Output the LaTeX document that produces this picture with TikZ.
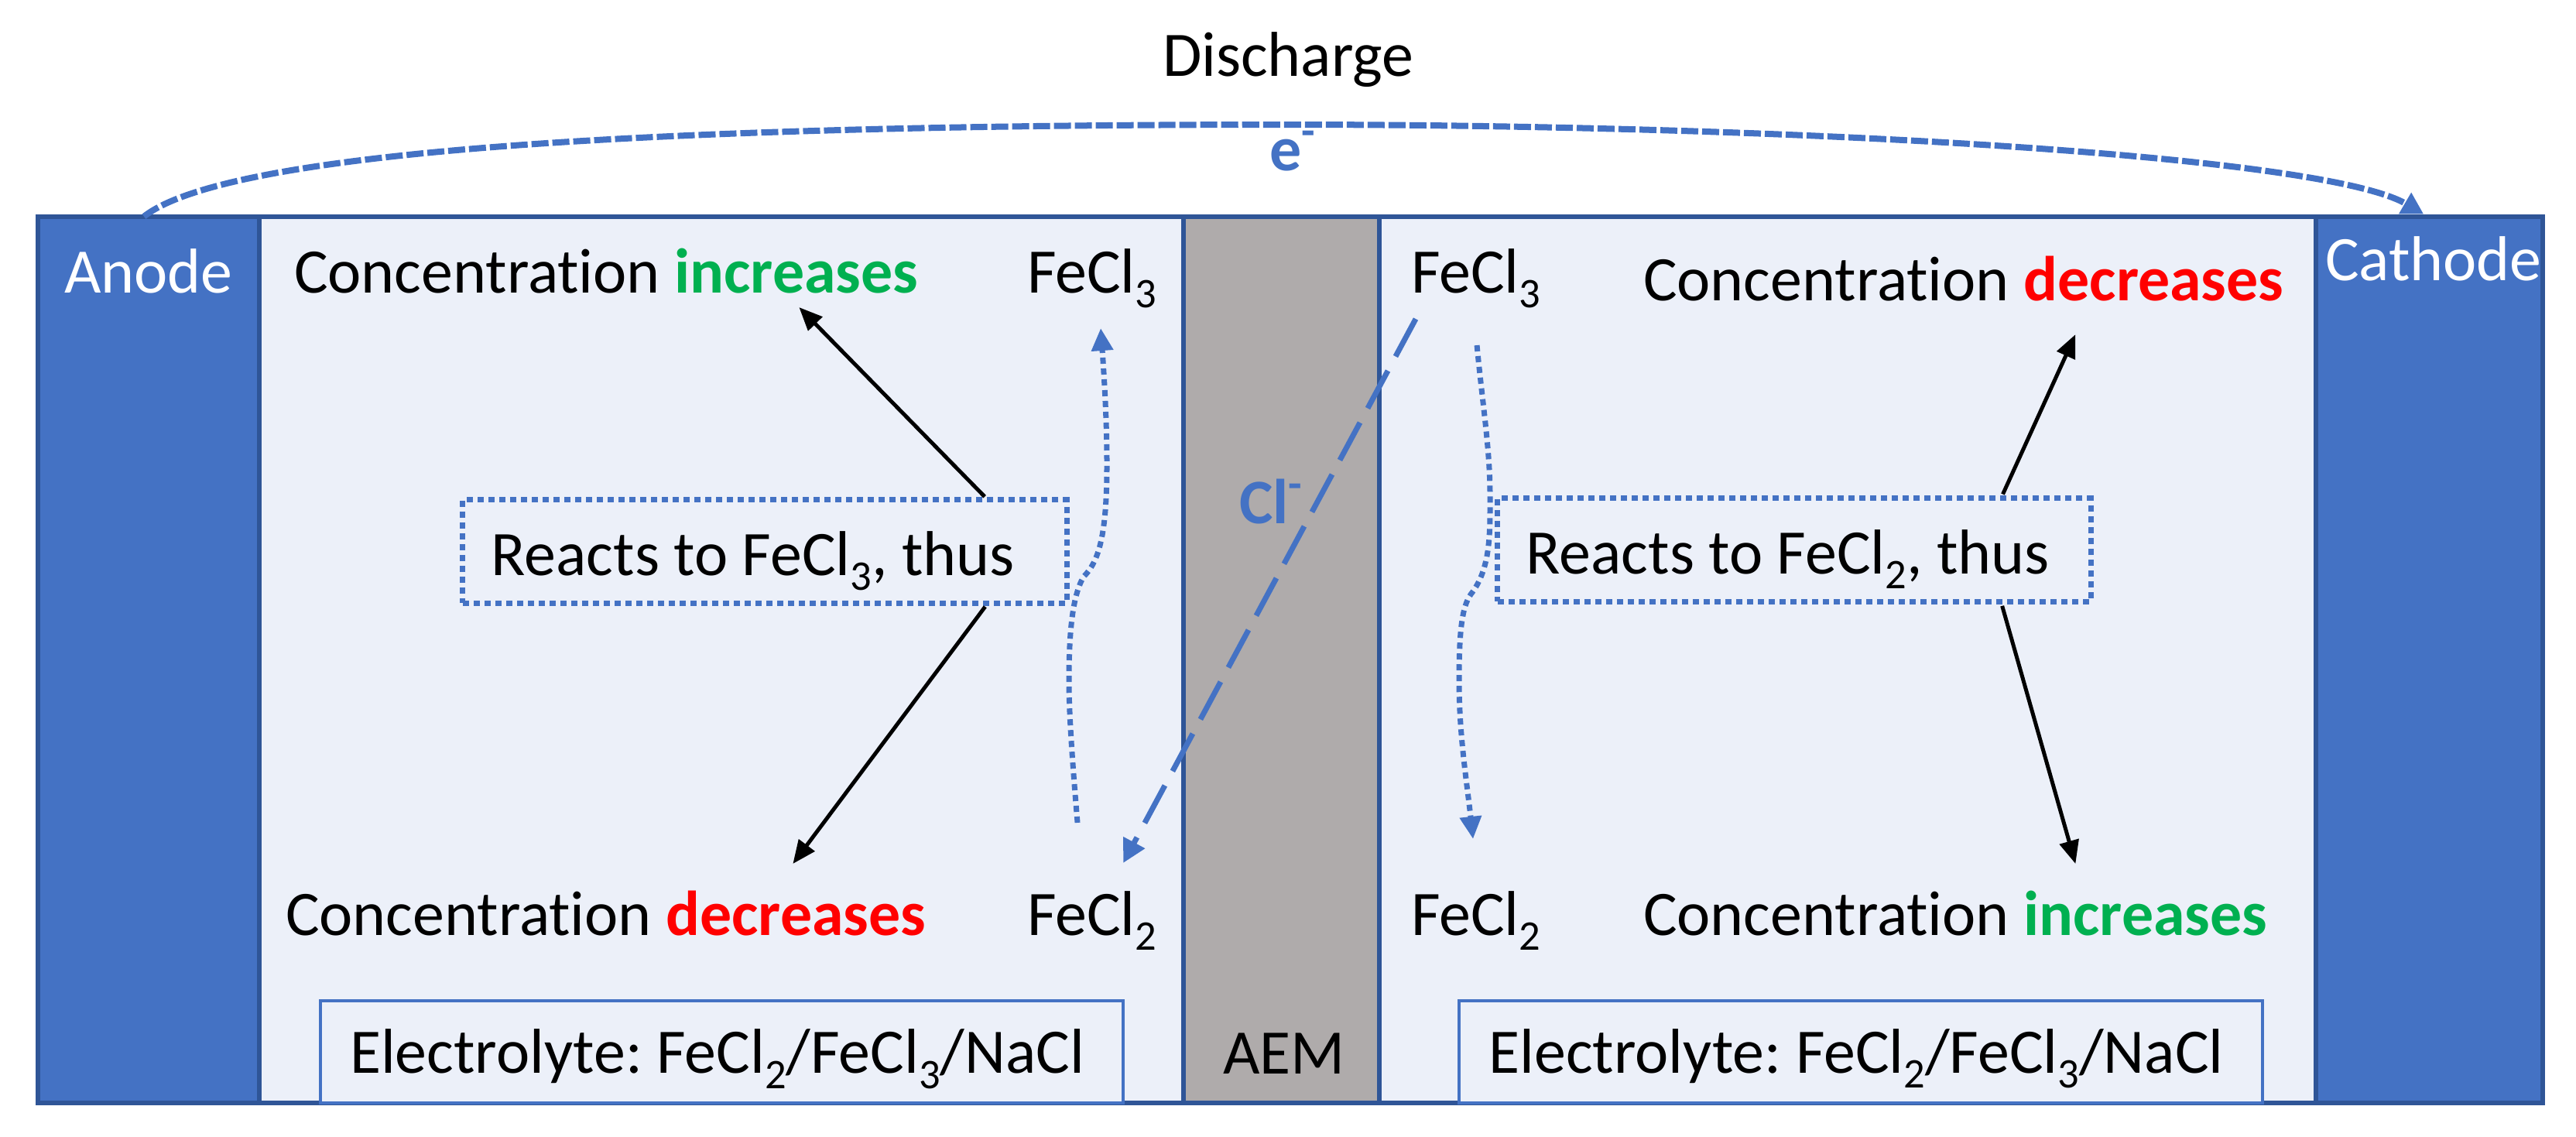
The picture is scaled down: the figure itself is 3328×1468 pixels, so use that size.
\documentclass[tikz,border=0pt]{standalone}
\usepackage{fontspec}
\setmainfont{Carlito}[Ligatures=CommonOff]
\usetikzlibrary{arrows.meta,positioning}
\definecolor{electrode}{HTML}{4472C4}
\definecolor{edgeblue}{HTML}{2F5597}
\definecolor{cellfill}{HTML}{ECF0F9}
\definecolor{aemgray}{HTML}{AFABAB}
\definecolor{upgreen}{HTML}{00B050}
\newcommand{\chemsub}[1]{\raisebox{-.24em}{\fontsize{15.5}{16}\selectfont #1}}
\newcommand{\up}{\textcolor{upgreen}{\textbf{increases}}}
\newcommand{\down}{\textcolor{red}{\textbf{decreases}}}
\frenchspacing

\begin{document}
\begin{tikzpicture}[
      x=0.01cm,y=-0.01cm,
      font=\fontsize{23.3}{27}\selectfont,
      cell/.style={
         rectangle,
         draw=edgeblue,
         line width=0.06cm,
         outer sep=0pt,
         minimum height=11.45cm},
      mytext/.style={
         anchor=base west,
         inner sep=0pt,
         outer sep=0pt,
         text height=0.5cm,
         text depth=0pt},
      reactbox/.style={
         rectangle,
         draw=electrode,
         line width=0.07cm,
         dash pattern=on 0.08cm off 0.06cm,
         inner sep=0pt,
         outer sep=0pt,
         minimum height=1.33cm,
         align=flush left,
         text height=0.61cm,
         text depth=0pt},
      elecbox/.style={
         rectangle,
         draw=electrode,
         fill=cellfill,
         line width=0.04cm,
         inner sep=0pt,
         outer sep=0pt,
         minimum width=10.37cm,
         minimum height=1.32cm,
         text width=9.6cm,
         align=flush left,
         text height=0.55cm,
         text depth=0pt},
      myarrow/.style={-{Triangle[length=0.3cm,width=0.25cm]},line width=0.05cm,shorten <=0.06cm},
      wirearrow/.style={-{Triangle[length=0.28cm,width=0.3cm]},draw=electrode,line width=0.08cm,dash pattern=on 0.22cm off 0.05cm},
      ionarrow/.style={-{Triangle[length=0.3cm,width=0.3cm]},draw=electrode,line width=0.07cm,dash pattern=on 0.55cm off 0.21cm},
      dotarrow/.style={-{Triangle[length=0.29cm,width=0.27cm]},draw=electrode,line width=0.07cm,dash pattern=on 0.08cm off 0.06cm}
      ]
      \useasboundingbox (0,0) rectangle (3328,1468);

      \node[cell,fill=electrode,minimum width=2.86cm] (anode) at (192,852.5) {};
      \node[cell,fill=cellfill,minimum width=11.93cm,right=0cm of anode] (leftcell) {};
      \node[cell,fill=aemgray,minimum width=2.53cm,right=0cm of leftcell] (aem) {};
      \node[cell,fill=cellfill,minimum width=12.09cm,right=0cm of aem] (rightcell) {};
      \node[cell,fill=electrode,minimum width=2.93cm,right=0cm of rightcell] (cathode) {};

      \node[elecbox] (elecl) at (932.5,1359) {Electrolyte: FeCl\chemsub{2}/FeCl\chemsub{3}/NaCl};
      \node[elecbox] (elecr) at (2404,1358.5) {Electrolyte: FeCl\chemsub{2}/FeCl\chemsub{3}/NaCl};
      \node[reactbox,minimum width=7.8cm,text width=7.06cm] (reactl) at (988,712.5) {Reacts to FeCl\chemsub{3}, thus};
      \node[reactbox,minimum width=7.66cm,text width=6.92cm] (reactr) at (2318,710.5) {Reacts to FeCl\chemsub{2}, thus};

    \foreach \n/\x/\y/\txt in {% name/left end/baseline/text
      discharge/1502/98/{Discharge},
      anodetxt/83/378/{\textcolor{white}{Anode}},
      cathodetxt/3004/362/{\textcolor{white}{Cathode}},
      aemtxt/1580/1387/{AEM},
      incl/380/378/{Concentration \up},
      decl/369/1208/{Concentration \down},
      decr/2123/388/{Concentration \down},
      incr/2123/1208/{Concentration \up},
      fethreel/1327/378/{FeCl\chemsub{3}},
      fetwol/1327/1208/{FeCl\chemsub{2}},
      fethreer/1823/378/{FeCl\chemsub{3}},
      fetwor/1823/1208/{FeCl\chemsub{2}},
      elabel/1640/220/{\textcolor{electrode}{\textbf{e\textsuperscript{-}}}},
      cllabel/1601/676/{\textcolor{electrode}{\textbf{Cl\textsuperscript{-}}}}}
       \node[mytext] (\n) at (\x,\y) {\txt};

    \foreach \i/\j/\a/\b in {% start/end node/shift of the end
      reactl.13.2/incl/6.52/-0.19,
      reactl.-13.85/decl/6.55/0.92,
      reactr.14.7/decr/5.58/-0.44,
      reactr.-14.7/incr/5.58/0.92}
       \draw [myarrow] (\i) -- ([xshift=\a cm,yshift=\b cm]\j.south west);

    \draw [wirearrow] ([xshift=-0.06cm]anode.north) .. controls (300,190) and (900,161) .. (1664,161)
       .. controls (2300,161) and (3000,200) .. ([xshift=-0.07cm,yshift=0.03cm]cathode.north);
    \draw [ionarrow] ([xshift=0.06cm,yshift=-0.34cm]fethreer.south west) -- ([xshift=1.24cm,yshift=0.93cm]fetwol.south west);
    \draw [dotarrow] ([xshift=0.65cm,yshift=1.45cm]fetwol.south west) .. controls (1385,980) and (1381,920) .. (1381,880)
       .. controls (1381,820) and (1385,770) .. (1400,745) .. controls (1420,725) and (1430,690) .. (1430,600)
       .. controls (1430,540) and (1426,480) .. ([xshift=0.95cm,yshift=-0.46cm]fethreel.south west);
    \draw [dotarrow] ([xshift=0.85cm,yshift=-0.68cm]fethreer.south west) .. controls (1915,520) and (1925,580) .. (1925,640)
       .. controls (1925,690) and (1926,735) .. (1900,768) .. controls (1888,785) and (1885,820) .. (1885,880)
       .. controls (1885,950) and (1895,1010) .. ([xshift=0.8cm,yshift=1.24cm]fetwor.south west);

    \end{tikzpicture}
\end{document}
